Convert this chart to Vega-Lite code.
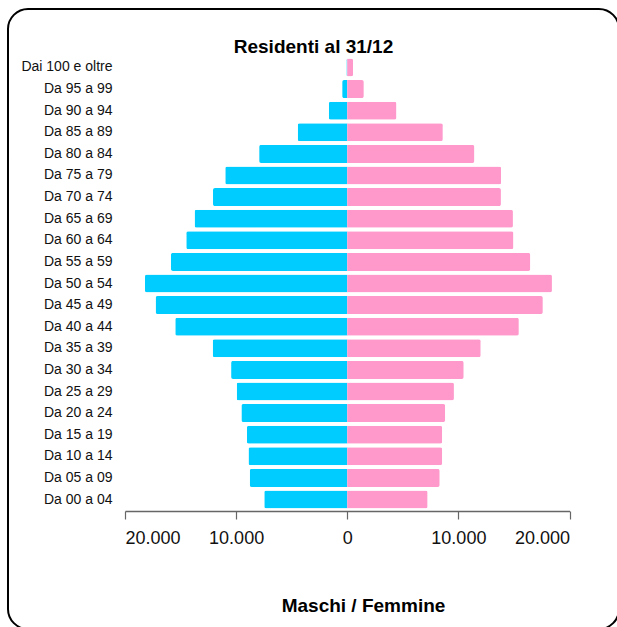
{
  "$schema": "https://vega.github.io/schema/vega-lite/v6.json",
  "width": 611,
  "height": 620,
  "autosize": {"type": "none"},
  "padding": {"left": 8, "top": 9, "right": 0, "bottom": 0},
  "title": {"text": "Residenti al 31/12", "fontSize": 19, "font": "Liberation Sans", "fontWeight": "bold", "color": "#000000", "offset": -63, "anchor": "middle", "baseline": "alphabetic"},
  "data": {"values": [
    {"age": "Dai 100 e oltre", "sex": "Maschi", "value": -80},
    {"age": "Da 95 a 99", "sex": "Maschi", "value": -460},
    {"age": "Da 90 a 94", "sex": "Maschi", "value": -1660},
    {"age": "Da 85 a 89", "sex": "Maschi", "value": -4460},
    {"age": "Da 80 a 84", "sex": "Maschi", "value": -7930},
    {"age": "Da 75 a 79", "sex": "Maschi", "value": -10980},
    {"age": "Da 70 a 74", "sex": "Maschi", "value": -12080},
    {"age": "Da 65 a 69", "sex": "Maschi", "value": -13740},
    {"age": "Da 60 a 64", "sex": "Maschi", "value": -14490},
    {"age": "Da 55 a 59", "sex": "Maschi", "value": -15870},
    {"age": "Da 50 a 54", "sex": "Maschi", "value": -18200},
    {"age": "Da 45 a 49", "sex": "Maschi", "value": -17250},
    {"age": "Da 40 a 44", "sex": "Maschi", "value": -15480},
    {"age": "Da 35 a 39", "sex": "Maschi", "value": -12110},
    {"age": "Da 30 a 34", "sex": "Maschi", "value": -10450},
    {"age": "Da 25 a 29", "sex": "Maschi", "value": -9950},
    {"age": "Da 20 a 24", "sex": "Maschi", "value": -9530},
    {"age": "Da 15 a 19", "sex": "Maschi", "value": -9030},
    {"age": "Da 10 a 14", "sex": "Maschi", "value": -8890},
    {"age": "Da 05 a 09", "sex": "Maschi", "value": -8780},
    {"age": "Da 00 a 04", "sex": "Maschi", "value": -7470},
    {"age": "Dai 100 e oltre", "sex": "Femmine", "value": 520},
    {"age": "Da 95 a 99", "sex": "Femmine", "value": 1490},
    {"age": "Da 90 a 94", "sex": "Femmine", "value": 4430},
    {"age": "Da 85 a 89", "sex": "Femmine", "value": 8600},
    {"age": "Da 80 a 84", "sex": "Femmine", "value": 11440},
    {"age": "Da 75 a 79", "sex": "Femmine", "value": 13850},
    {"age": "Da 70 a 74", "sex": "Femmine", "value": 13830},
    {"age": "Da 65 a 69", "sex": "Femmine", "value": 14910},
    {"age": "Da 60 a 64", "sex": "Femmine", "value": 14950},
    {"age": "Da 55 a 59", "sex": "Femmine", "value": 16470},
    {"age": "Da 50 a 54", "sex": "Femmine", "value": 18420},
    {"age": "Da 45 a 49", "sex": "Femmine", "value": 17600},
    {"age": "Da 40 a 44", "sex": "Femmine", "value": 15440},
    {"age": "Da 35 a 39", "sex": "Femmine", "value": 12010},
    {"age": "Da 30 a 34", "sex": "Femmine", "value": 10480},
    {"age": "Da 25 a 29", "sex": "Femmine", "value": 9600},
    {"age": "Da 20 a 24", "sex": "Femmine", "value": 8820},
    {"age": "Da 15 a 19", "sex": "Femmine", "value": 8540},
    {"age": "Da 10 a 14", "sex": "Femmine", "value": 8540},
    {"age": "Da 05 a 09", "sex": "Femmine", "value": 8320},
    {"age": "Da 00 a 04", "sex": "Femmine", "value": 7230}
  ]},
  "mark": {"type": "bar", "cornerRadius": 2},
  "encoding": {
    "y": {
      "field": "age", "type": "nominal", "sort": null,
      "scale": {"range": [47.7, 501.3], "paddingInner": 0.167, "paddingOuter": 0.083},
      "axis": {"title": null, "ticks": false, "domain": false, "grid": false, "labelPadding": 0, "offset": -104, "labelFontSize": 14, "labelFont": "Liberation Sans", "labelColor": "#111111"}
    },
    "x": {
      "field": "value", "type": "quantitative",
      "scale": {"domain": [-20000, 20000], "range": [117, 561.5], "nice": false},
      "axis": {
        "title": "Maschi / Femmine",
        "values": [-20000, -10000, 0, 10000, 20000],
        "labelExpr": "replace(format(abs(datum.value), ',d'), ',', '.')",
        "offset": -118, "tickSize": 8, "labelPadding": 10, "grid": false,
        "labelFontSize": 18, "labelFont": "Liberation Sans", "labelColor": "#111111",
        "domainColor": "#666666", "tickColor": "#666666", "domainWidth": 1.5, "tickWidth": 1.2,
        "titleFontSize": 19, "titleFont": "Liberation Sans", "titleFontWeight": "bold", "titleColor": "#000000",
        "titleX": 355, "titleY": 100, "titleBaseline": "alphabetic", "titleAnchor": "middle"
      }
    },
    "color": {
      "field": "sex", "type": "nominal",
      "scale": {"domain": ["Maschi", "Femmine"], "range": ["#00CCFF", "#FF99CC"]},
      "legend": null
    }
  },
  "config": {
    "font": "Liberation Sans",
    "view": {"stroke": "#000000", "strokeWidth": 2, "cornerRadius": 20}
  }
}
